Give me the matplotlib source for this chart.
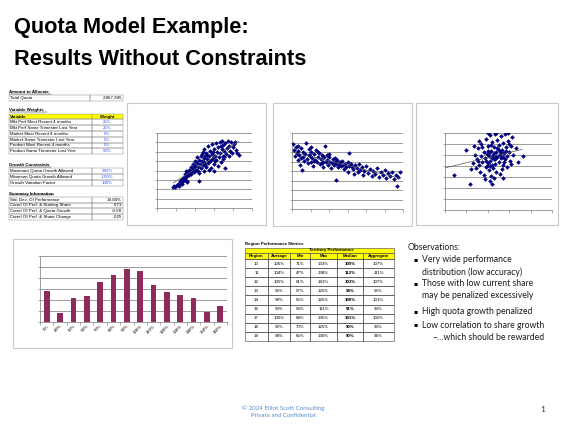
import matplotlib.pyplot as plt
import numpy as np
from matplotlib.patches import Rectangle

W, H = 566, 424

# ---- data ----
title_lines = ["Quota Model Example:", "Results Without Constraints"]

total_quota = "2,867,995"
weight_vars = ["Mkt Perf Most Recent 4 months", "Mkt Perf Same Trimester Last Year",
               "Market Most Recent 4 months", "Market Same Trimester Last Year",
               "Product Most Recent 4 months", "Product Same Trimester Last Year"]
weight_vals = ["25%", "25%", "0%", "0%", "0%", "50%"]
growth_labels = ["Maximum Quota Growth Allowed", "Minimum Quota Growth Allowed",
                 "Growth Variation Factor"]
growth_vals = ["999%", "-100%", "100%"]
summary_labels = ["Std. Dev. Of Performance", "Correl Of Perf. & Starting Share",
                  "Correl Of Perf. & Quota Growth", "Correl Of Perf. & Share Change"]
summary_vals = ["19.84%", "0.73", "-0.68", "0.25"]

# scatter clouds (axis grid units)
perf_vs_share = np.array([
    (0.85, 2.25), (0.9, 2.3), (0.95, 2.25), (1.05, 2.45), (1.1, 2.6), (1.15, 2.4), (1.2, 2.9),
    (1.25, 2.7), (1.3, 3.1), (1.35, 2.85), (1.4, 3.3), (1.45, 3.0), (1.5, 3.6), (1.5, 3.2),
    (1.55, 3.9), (1.6, 3.4), (1.6, 2.9), (1.65, 3.7), (1.7, 4.1), (1.7, 3.5), (1.75, 3.9),
    (1.8, 4.4), (1.8, 3.6), (1.85, 4.0), (1.9, 4.7), (1.9, 4.2), (1.95, 3.8), (2.0, 4.5),
    (2.0, 5.0), (2.05, 4.1), (2.1, 4.8), (2.1, 5.4), (2.15, 4.4), (2.2, 5.1), (2.2, 3.7),
    (2.25, 4.7), (2.3, 5.6), (2.3, 4.3), (2.35, 5.0), (2.4, 6.0), (2.4, 4.6), (2.45, 5.3),
    (2.5, 4.9), (2.5, 6.3), (2.55, 5.6), (2.6, 4.4), (2.6, 5.9), (2.65, 5.2), (2.7, 6.6),
    (2.7, 4.8), (2.75, 5.5), (2.8, 6.1), (2.8, 5.0), (2.85, 4.3), (2.9, 5.8), (2.9, 6.8),
    (2.95, 5.3), (3.0, 6.3), (3.0, 4.7), (3.05, 5.6), (3.1, 6.9), (3.1, 5.1), (3.15, 6.0),
    (3.2, 4.5), (3.2, 6.5), (3.25, 5.4), (3.3, 7.0), (3.3, 5.9), (3.35, 4.9), (3.4, 6.3),
    (3.4, 7.1), (3.45, 5.6), (3.5, 6.7), (3.5, 5.2), (3.55, 6.1), (3.6, 4.3), (3.6, 6.9),
    (3.65, 5.8), (3.7, 6.4), (3.75, 7.1), (3.8, 5.5), (3.8, 6.6), (3.85, 6.1), (3.9, 7.0),
    (3.95, 5.9), (4.0, 6.5), (4.05, 6.8), (4.1, 7.0), (4.15, 6.2), (4.2, 5.9), (4.3, 5.7),
    (3.0, 3.9), (1.6, 2.8), (2.2, 2.9), (1.3, 2.55), (2.45, 4.0), (2.75, 4.1), (2.35, 5.8),
    (2.55, 4.6), (2.65, 5.7), (2.85, 5.1), (3.05, 5.0), (2.15, 4.0), (1.95, 4.4), (3.35, 6.6),
    (3.55, 5.4), (2.95, 6.0), (2.45, 4.8),
])

perf_vs_growth = np.array([
    (0.05, 6.8), (0.1, 6.2), (0.15, 5.6), (0.2, 6.5), (0.25, 5.9), (0.3, 5.2), (0.35, 6.1),
    (0.4, 5.7), (0.45, 4.6), (0.5, 6.4), (0.5, 5.4), (0.55, 4.1), (0.6, 6.0), (0.65, 5.1),
    (0.7, 5.8), (0.75, 6.9), (0.8, 5.3), (0.85, 4.8), (0.9, 6.3), (0.95, 5.6), (1.0, 5.0),
    (1.05, 6.0), (1.1, 5.4), (1.15, 4.5), (1.2, 5.8), (1.25, 5.2), (1.3, 6.2), (1.35, 4.9),
    (1.4, 5.5), (1.45, 5.9), (1.5, 4.7), (1.55, 5.3), (1.6, 5.7), (1.65, 5.0), (1.7, 4.4),
    (1.75, 5.5), (1.8, 6.6), (1.85, 4.9), (1.9, 5.2), (1.95, 4.6), (2.0, 5.5), (2.05, 5.0),
    (2.1, 4.3), (2.15, 4.8), (2.2, 5.3), (2.25, 4.6), (2.3, 5.0), (2.4, 3.1), (2.4, 4.7),
    (2.45, 5.2), (2.5, 4.4), (2.6, 4.9), (2.65, 4.5), (2.7, 5.1), (2.8, 4.2), (2.85, 4.7),
    (2.9, 4.4), (3.0, 4.9), (3.05, 3.9), (3.1, 5.9), (3.1, 4.5), (3.2, 4.7), (3.3, 4.2),
    (3.35, 3.7), (3.4, 4.6), (3.5, 4.3), (3.55, 3.9), (3.6, 4.7), (3.7, 4.1), (3.8, 4.4),
    (3.85, 3.6), (3.9, 4.0), (4.0, 4.5), (4.1, 3.8), (4.2, 4.2), (4.3, 3.5), (4.4, 4.0),
    (4.5, 3.7), (4.6, 4.3), (4.7, 3.4), (4.8, 3.9), (4.9, 3.6), (5.0, 4.1), (5.1, 3.3),
    (5.2, 3.8), (5.3, 3.5), (5.4, 3.9), (5.5, 3.2), (5.6, 3.6), (5.7, 2.4), (5.75, 3.4),
    (5.85, 3.9), (0.3, 6.6), (0.6, 5.5), (1.0, 6.5), (1.4, 6.0), (2.0, 5.8), (2.3, 5.4),
    (1.2, 5.1), (1.6, 4.8), (2.55, 4.7), (2.75, 4.6), (3.25, 4.4), (1.9, 5.7), (0.9, 5.7),
])

perf_vs_share_chg = np.array([
    (0.4, 3.2), (1.0, 5.5), (1.15, 2.4), (3.65, 4.9), (1.3, 4.3), (1.4, 5.0), (1.45, 3.8),
    (1.5, 4.6), (1.55, 5.6), (1.6, 4.1), (1.65, 3.5), (1.7, 4.9), (1.7, 6.0), (1.75, 4.4),
    (1.8, 5.3), (1.8, 3.2), (1.85, 4.7), (1.9, 6.5), (1.9, 3.9), (1.95, 5.1), (2.0, 4.3),
    (2.0, 5.8), (2.05, 3.6), (2.05, 4.9), (2.1, 6.8), (2.1, 4.5), (2.1, 2.6), (2.15, 5.4),
    (2.15, 3.1), (2.2, 4.1), (2.2, 6.2), (2.2, 2.4), (2.25, 5.0), (2.25, 3.8), (2.3, 5.7),
    (2.3, 4.6), (2.3, 2.9), (2.35, 6.9), (2.35, 4.2), (2.4, 5.3), (2.4, 3.5), (2.45, 4.8),
    (2.45, 6.4), (2.5, 5.9), (2.5, 4.4), (2.55, 5.1), (2.55, 3.3), (2.6, 6.7), (2.6, 4.7),
    (2.65, 5.5), (2.7, 4.1), (2.7, 6.1), (2.75, 5.2), (2.8, 4.6), (2.8, 6.9), (2.85, 5.7),
    (2.9, 4.9), (2.9, 3.9), (2.95, 6.3), (3.0, 5.3), (3.05, 4.5), (3.1, 5.8), (3.15, 6.6),
    (3.2, 5.0), (3.3, 5.6), (3.4, 4.4), (1.2, 3.7), (1.35, 5.8), (1.6, 6.3), (2.0, 7.0),
    (2.4, 7.0), (2.7, 2.9), (1.85, 2.8), (2.95, 7.0), (3.1, 4.2), (1.55, 4.5), (2.15, 5.9),
    (2.45, 5.6), (2.65, 3.7), (1.95, 4.0), (2.25, 4.9), (2.55, 5.0), (2.35, 4.6), (2.05, 5.2),
    (2.75, 4.4), (1.75, 5.7), (2.85, 5.4), (3.0, 6.0), (1.9, 4.5), (2.6, 5.3),
    (2.2, 4.7), (2.4, 4.9), (2.0, 5.4), (2.3, 5.2), (2.5, 5.5), (2.1, 4.0), (2.7, 4.8),
])

bar_labels = ["0%", "40%", "50%", "60%", "70%", "80%", "90%", "100%", "110%",
              "120%", "130%", "140%", "150%", "160%"]
bar_counts = [28, 8, 22, 24, 36, 43, 48, 46, 34, 27, 25, 22, 9, 15]

region_ids = ["10", "11", "12", "13", "14", "16", "17", "18", "19"]
region_avg = ["106%", "104%", "105%", "95%", "99%", "90%", "100%", "92%", "94%"]
region_min = ["71%", "47%", "61%", "57%", "55%", "54%", "68%", "70%", "65%"]
region_max = ["133%", "138%", "141%", "125%", "125%", "111%", "135%", "125%", "130%"]
region_med = ["109%", "112%", "103%", "94%", "100%", "91%", "101%", "90%", "90%"]
region_agg = ["107%", "111%", "107%", "95%", "101%", "93%", "102%", "93%", "96%"]

observations = [
    ("b", "Very wide performance"), ("c", "distribution (low accuracy)"),
    ("b", "Those with low current share"), ("c", "may be penalized excessively"),
    ("b", "High quota growth penalized"), ("b", "Low correlation to share growth"),
    ("d", "\u2026which should be rewarded"),
]
obs_y = [260, 272, 284, 296, 312, 325, 338]

# ---- figure ----
fig = plt.figure(figsize=(W / 100, H / 100), dpi=100)
ax0 = fig.add_axes([0, 0, 1, 1])
ax0.set_xlim(0, W)
ax0.set_ylim(H, 0)
ax0.axis("off")

def px_axes(l, t, r, b):
    return fig.add_axes([l / W, 1 - b / H, (r - l) / W, (b - t) / H])

def box(x, y, w, h, fc="none", ec="#8c8c8c", lw=0.35):
    ax0.add_patch(Rectangle((x, y), w, h, facecolor=fc, edgecolor=ec, linewidth=lw))

# title
for txt, yb in zip(title_lines, [33, 65]):
    ax0.text(14, yb, txt, fontsize=15.7, fontweight="bold", family="Liberation Sans",
             va="baseline", color="black")

# left parameter table
fs = 3.2
def heading(y, s):
    ax0.text(9, y, s, fontsize=fs, fontweight="bold", family="Liberation Sans", va="baseline")
    ax0.plot([9, 9 + len(s) * 2.35], [y + 0.8, y + 0.8], color="black", lw=0.3)

def rows(y0, h, labels, vals, split, vcolor, align="center"):
    for i, (lab, v) in enumerate(zip(labels, vals)):
        y = y0 + i * h
        box(9, y, split - 9, h)
        box(split, y, 123 - split, h)
        ax0.text(10, y + h / 2, lab, fontsize=fs, family="Liberation Sans", va="center")
        if align == "center":
            ax0.text((split + 123) / 2, y + h / 2, v, fontsize=fs, family="Liberation Sans",
                     va="center", ha="center", color=vcolor)
        else:
            ax0.text(122, y + h / 2, v, fontsize=fs, family="Liberation Sans",
                     va="center", ha="right", color=vcolor)

heading(93, "Amount to Allocate")
rows(95.3, 5.4, ["Total Quota"], [total_quota], 90, "black", align="right")
heading(111.5, "Variable Weights")
box(9, 114.3, 83, 5, fc="#ffff00")
box(92, 114.3, 31, 5, fc="#ffff00")
ax0.text(10, 116.8, "Variable", fontsize=fs, fontweight="bold", family="Liberation Sans", va="center")
ax0.text(107.5, 116.8, "Weight", fontsize=fs, fontweight="bold", family="Liberation Sans",
         va="center", ha="center")
rows(119.3, 5.8, weight_vars, weight_vals, 92, "#3355ff")
heading(166, "Growth Constraints")
rows(168.3, 5.9, growth_labels, growth_vals, 92, "#3355ff")
heading(194.5, "Summary Information")
rows(196.7, 5.8, summary_labels, summary_vals, 92, "black", align="right")

# panel frames
for l, t, r, b in [(127, 103, 266, 225), (273, 103, 412, 226), (416, 103, 558, 225),
                   (13, 239, 232, 348)]:
    box(l, t, r - l, b - t, ec="#c8c8c8", lw=0.8)

def excel_axes(ax, xmax, ymax):
    ax.set_xlim(0, xmax)
    ax.set_ylim(0, ymax)
    ax.set_yticks(np.arange(0, ymax + 1))
    ax.set_xticks(np.arange(0, xmax + 1))
    ax.yaxis.grid(True, color="#8c8c8c", lw=0.6)
    ax.set_axisbelow(True)
    ax.tick_params(labelleft=False, labelbottom=False, length=1.8, width=0.5,
                   color="#8c8c8c", direction="out")
    for s in ["top", "right"]:
        ax.spines[s].set_visible(False)
    for s in ["left", "bottom"]:
        ax.spines[s].set_color("#8c8c8c")
        ax.spines[s].set_linewidth(0.6)
    ax.patch.set_alpha(0)

scatters = [
    (perf_vs_share, (157, 133, 252, 208), 5, 8, None),
    (perf_vs_growth, (292, 133, 403, 209), 6, 8, None),
    (perf_vs_share_chg, (445, 133, 552, 210), 5, 7, (0, 3.6)),
]
for pts, rect, xmax, ymax, xr in scatters:
    ax = px_axes(*rect)
    excel_axes(ax, xmax, ymax)
    ax.scatter(pts[:, 0], pts[:, 1], s=5.5, marker="D", color="#000080", linewidths=0,
               zorder=3)
    k, c = np.polyfit(pts[:, 0], pts[:, 1], 1)
    if xr is None:
        xr = (pts[:, 0].min(), pts[:, 0].max())
    xs = np.array(xr)
    ax.plot(xs, k * xs + c, color="#555555", lw=0.5, zorder=4)

# histogram of performance
axb = px_axes(40, 256, 227, 322)
excel_axes(axb, 13, 60)
axb.set_xlim(-0.5, 13.5)
axb.set_yticks(np.arange(0, 61, 10))
xpos = np.arange(len(bar_counts))
axb.set_xticks(xpos)
axb.bar(xpos, bar_counts, width=0.43, color="#8e2a5c", zorder=3)
axb.set_xticks(np.arange(-0.5, 14, 1), minor=True)
axb.tick_params(axis="x", which="major", length=0, labelbottom=True, labelsize=3.2, pad=1.5)
axb.tick_params(axis="x", which="minor", length=1.8, width=0.5, color="#8c8c8c")
axb.set_xticklabels(bar_labels, rotation=45, ha="right", va="top", rotation_mode="anchor",
                    family="Liberation Sans")

# region performance table
ax0.text(245, 245, "Region Performance Metrics", fontsize=fs, fontweight="bold",
         family="Liberation Sans", va="baseline")
cols = [245, 268, 290, 310, 337, 363, 394]
box(245, 248, 149, 5, fc="#ffff00", ec="#404040", lw=0.4)
ax0.text((268 + 394) / 2, 250.5, "Territory Performance", fontsize=fs, fontweight="bold",
         family="Liberation Sans", va="center", ha="center")
hdrs = ["Region", "Average", "Min", "Max", "Median", "Aggregate"]
for i, hname in enumerate(hdrs):
    box(cols[i], 253, cols[i + 1] - cols[i], 6, fc="#ffff00", ec="#404040", lw=0.4)
    ax0.text((cols[i] + cols[i + 1]) / 2, 256, hname, fontsize=fs, fontweight="bold",
             family="Liberation Sans", va="center", ha="center")
rh = (341 - 259) / len(region_ids)
for r in range(len(region_ids)):
    y = 259 + r * rh
    vals = [region_ids[r], region_avg[r], region_min[r], region_max[r], region_med[r],
            region_agg[r]]
    for i, v in enumerate(vals):
        box(cols[i], y, cols[i + 1] - cols[i], rh, ec="#404040", lw=0.4)
        ax0.text((cols[i] + cols[i + 1]) / 2, y + rh / 2, v, fontsize=fs,
                 fontweight="bold" if i == 4 else "normal", family="Liberation Sans",
                 va="center", ha="center")

# observations
ofam = ["Lato", "DejaVu Sans"]
ofs = 6.2
ax0.text(408, 247, "Observations:", fontsize=ofs, family=ofam, va="center", color="#1a1a1a")
for (kind, s), y in zip(observations, obs_y):
    if kind == "b":
        ax0.text(413, y, "\u25aa", fontsize=4.5, family=["DejaVu Sans"], va="center")
        ax0.text(422, y, s, fontsize=ofs, family=ofam, va="center", color="#1a1a1a")
    elif kind == "c":
        ax0.text(422, y, s, fontsize=ofs, family=ofam, va="center", color="#1a1a1a")
    else:
        ax0.text(432, y, "\u2013", fontsize=ofs, family=ofam, va="center", color="#1a1a1a")
        ax0.text(437, y, s, fontsize=ofs, family=ofam, va="center", color="#1a1a1a")

# footer
ax0.text(283, 408, "\u00a9 2024 Elliot Scott Consulting", fontsize=4.4, family=ofam,
         ha="center", va="center", color="#5b8ad0")
ax0.text(283, 415.5, "Private and Confidential", fontsize=4.4, family=ofam,
         ha="center", va="center", color="#5b8ad0")
ax0.text(543, 410, "1", fontsize=6, family=ofam, ha="center", va="center", color="#333333")

fig.savefig("out.png", dpi=100)
